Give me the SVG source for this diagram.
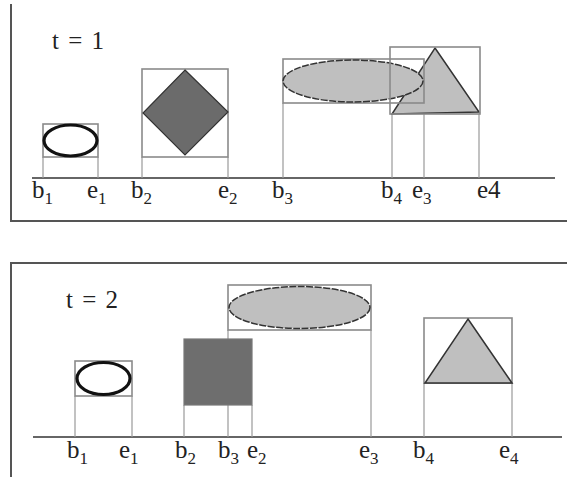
<svg xmlns="http://www.w3.org/2000/svg" width="567" height="477" viewBox="0 0 567 477">
<style>
.frame{stroke:#555;stroke-width:2;fill:none}
.axis{stroke:#333;stroke-width:1.6;fill:none}
.box{stroke:#8a8a8a;stroke-width:1.6;fill:none}
.vl{stroke:#999;stroke-width:1.2;fill:none}
.ring{stroke:#111;stroke-width:3.2;fill:#fff}
.dark{fill:#6b6b6b;stroke:#333;stroke-width:1.2}
.light{fill:#bfbfbf;stroke:#333;stroke-width:1.5}
text{font-family:"Liberation Serif","Times New Roman",serif;font-size:25px;fill:#222}
.sub{font-size:17px}
</style>
<rect width="567" height="477" fill="#fff"/>
<g id="frames">
<path class="frame" d="M11,4 V221 H567"/>
<path class="frame" d="M11,477 V263 H567"/>
</g>
<g id="axes">
<line class="axis" x1="32" y1="178" x2="555" y2="178"/>
<line class="axis" x1="33" y1="437" x2="562" y2="437"/>
</g>
<g id="connectors">
<line class="vl" x1="43" y1="157" x2="43" y2="178"/>
<line class="vl" x1="98" y1="157" x2="98" y2="178"/>
<line class="vl" x1="142" y1="157" x2="142" y2="178"/>
<line class="vl" x1="228" y1="157" x2="228" y2="178"/>
<line class="vl" x1="283" y1="103" x2="283" y2="178"/>
<line class="vl" x1="424" y1="103" x2="424" y2="178"/>
<line class="vl" x1="392" y1="114" x2="392" y2="178"/>
<line class="vl" x1="479" y1="114" x2="479" y2="178"/>
<line class="vl" x1="75" y1="396" x2="75" y2="437"/>
<line class="vl" x1="132" y1="396" x2="132" y2="437"/>
<line class="vl" x1="184" y1="405" x2="184" y2="437"/>
<line class="vl" x1="252" y1="405" x2="252" y2="437"/>
<line class="vl" x1="228" y1="330" x2="228" y2="437"/>
<line class="vl" x1="371" y1="330" x2="371" y2="437"/>
<line class="vl" x1="424" y1="383" x2="424" y2="437"/>
<line class="vl" x1="512" y1="383" x2="512" y2="437"/>
</g>
<g id="t1-label"><text x="52" y="49" word-spacing="3">t = 1</text></g>
<g id="t1-obj1">
<rect class="box" x="43" y="124" width="55" height="33"/>
<ellipse class="ring" cx="70.5" cy="140.5" rx="26.5" ry="15.5"/>
</g>
<g id="t1-obj2">
<rect class="box" x="142" y="69" width="86" height="88"/>
<polygon class="dark" points="185,70 228,112 185,155 143,113"/>
</g>
<g id="t1-obj4-shape">
<polygon class="light" points="435,48 479,112 392,114"/>
</g>
<g id="t1-obj3">
<rect class="box" x="283" y="59" width="141" height="44"/>
<ellipse class="light" cx="353" cy="81" rx="70" ry="21" stroke-dasharray="7,1.5"/>
</g>
<g id="t1-obj4">
<rect class="box" x="390" y="47" width="90" height="67"/>
</g>
<g id="t1-labels">
<text x="32" y="198">b<tspan class="sub" dy="6">1</tspan></text>
<text x="87" y="198">e<tspan class="sub" dy="6">1</tspan></text>
<text x="131" y="198">b<tspan class="sub" dy="6">2</tspan></text>
<text x="218" y="198">e<tspan class="sub" dy="6">2</tspan></text>
<text x="272" y="198">b<tspan class="sub" dy="6">3</tspan></text>
<text x="381" y="198">b<tspan class="sub" dy="6">4</tspan></text>
<text x="412" y="198">e<tspan class="sub" dy="6">3</tspan></text>
<text x="477" y="198">e4</text>
</g>
<g id="t2-label"><text x="66" y="308" word-spacing="3">t = 2</text></g>
<g id="t2-obj1">
<rect class="box" x="75" y="361" width="57" height="35"/>
<ellipse class="ring" cx="103.5" cy="378.5" rx="26.5" ry="16"/>
</g>
<g id="t2-obj2">
<rect x="184" y="339" width="68" height="66" fill="#6e6e6e" stroke="#777" stroke-width="1.2"/>
</g>
<g id="t2-obj3">
<rect class="box" x="228" y="285" width="143" height="45"/>
<ellipse class="light" cx="299.5" cy="307.5" rx="70.5" ry="21" stroke-dasharray="7,1.5"/>
</g>
<g id="t2-obj4">
<rect class="box" x="424" y="318" width="88" height="65"/>
<polygon class="light" points="468,319 512,383 425,383"/>
</g>
<g id="t2-labels">
<text x="67" y="458">b<tspan class="sub" dy="6">1</tspan></text>
<text x="119" y="458">e<tspan class="sub" dy="6">1</tspan></text>
<text x="175" y="458">b<tspan class="sub" dy="6">2</tspan></text>
<text x="218" y="458">b<tspan class="sub" dy="6">3</tspan></text>
<text x="247" y="458">e<tspan class="sub" dy="6">2</tspan></text>
<text x="359" y="458">e<tspan class="sub" dy="6">3</tspan></text>
<text x="413" y="458">b<tspan class="sub" dy="6">4</tspan></text>
<text x="499" y="458">e<tspan class="sub" dy="6">4</tspan></text>
</g>
</svg>
